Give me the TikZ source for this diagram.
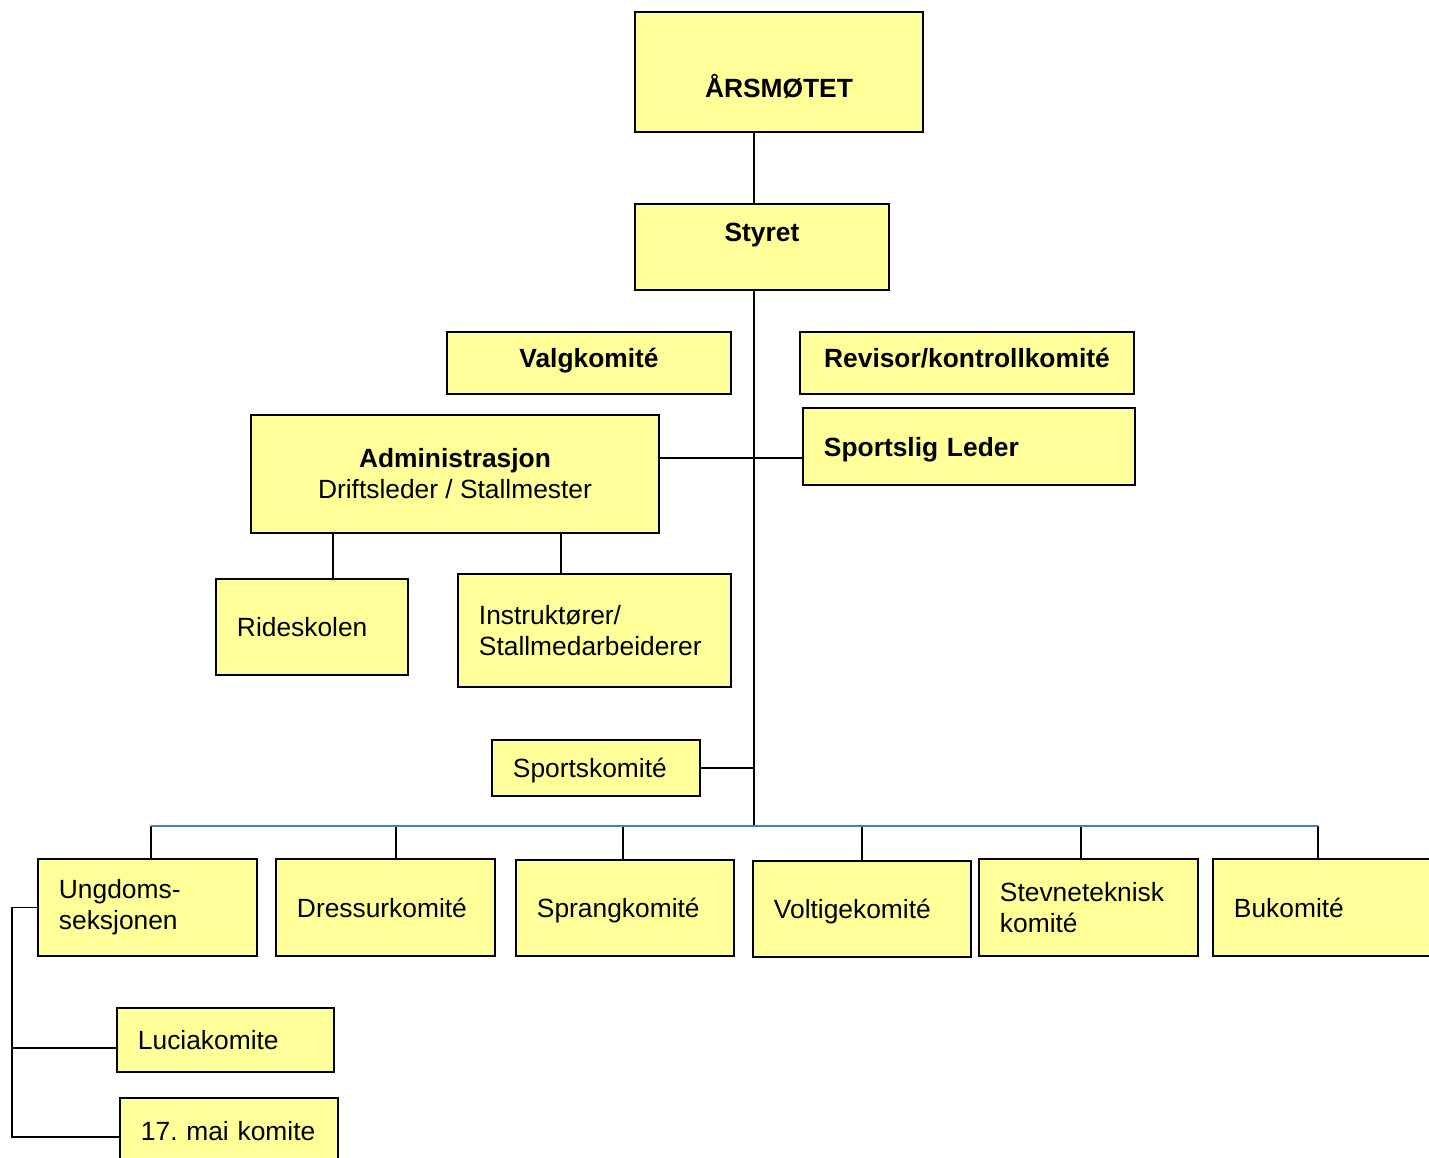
\documentclass[tikz,border=0pt]{standalone}
\usepackage{fontspec}
\setmainfont{Liberation Sans}
\frenchspacing
\definecolor{boxyellow}{RGB}{255,255,153}
\definecolor{busblue}{RGB}{74,126,187}
\newcommand{\orgfont}{\fontsize{15}{17.6}\selectfont}

\begin{document}
\begin{tikzpicture}[
      every node/.style={draw, fill=boxyellow, line width=1.1pt, anchor=north west, inner sep=0pt, font=\orgfont},
      head/.style={font=\orgfont\bfseries, align=center},
      left box/.style={align=left, inner xsep=0.42cm, text width=#1},
      one line/.style={text depth=0pt},
      link/.style={line width=1.1pt},
      busline/.style={draw=busblue, line width=1.1pt}
    ]
    \useasboundingbox (0,0) rectangle (28.58,-23.16);

    % top
    \node (ars) [head, minimum width=5.76cm, minimum height=2.4cm, text height=1.02cm, text depth=0pt] at (12.68,-0.22) {ÅRSMØTET};
    \node (sty) [head, minimum width=5.08cm, minimum height=1.72cm, text height=0pt, text depth=0.22cm] at (12.68,-4.06) {Styret};
    \node (val) [head, minimum width=5.68cm, minimum height=1.24cm, text height=0.2cm, text depth=0pt] at (8.92,-6.62) {Valgkomité};
    \node (rev) [head, minimum width=6.68cm, minimum height=1.24cm, text height=0.2cm, text depth=0pt] at (15.98,-6.62) {Revisor/kontrollkomité};
    \node (spl) [head, left box=5.80cm, one line, minimum height=1.54cm] at (16.04,-8.14) {Sportslig Leder};
    \node (adm) [align=center, minimum width=8.16cm, minimum height=2.36cm] at (5.00,-8.28) {\textbf{Administrasjon}\\Driftsleder / Stallmester};

    % administration
    \node (rid) [left box=3.00cm, one line, minimum height=1.92cm] at (4.30,-11.56) {Rideskolen};
    \node (ins) [left box=4.62cm, minimum height=2.26cm] at (9.14,-11.46) {Instruktører/\\Stallmedarbeiderer};
    \node (spk) [left box=3.32cm, one line, minimum height=1.12cm] at (9.82,-14.78) {Sportskomité};

    % committees
    \node (ung) [left box=3.54cm, minimum height=1.94cm] at (0.74,-17.16) {Ungdoms-\\seksjonen};
    \node (dre) [left box=3.54cm, one line, minimum height=1.94cm] at (5.50,-17.16) {Dressurkomité};
    \node (spr) [left box=3.52cm, one line, minimum height=1.92cm] at (10.30,-17.18) {Sprangkomité};
    \node (vol) [left box=3.52cm, one line, minimum height=1.92cm] at (15.04,-17.20) {Voltigekomité};
    \node (ste) [left box=3.54cm, minimum height=1.94cm] at (19.56,-17.16) {Stevneteknisk\\komité};
    \node (buk) [left box=3.54cm, one line, minimum height=1.94cm] at (24.24,-17.16) {Bukomité};
    \node (luc) [left box=3.50cm, one line, minimum height=1.28cm] at (2.32,-20.14) {Luciakomite};
    \node (mai) [left box=3.52cm, one line, minimum height=1.32cm] at (2.38,-21.94) {17. mai komite};

    \coordinate (bus) at (15.08,-16.52);
    \draw[link] (bus |- ars.south) -- (bus |- sty.north);
    \draw[link] (bus |- sty.south) -- (bus);
    \path ([yshift=0.32cm]adm.east) coordinate (admlink);
    \draw[link] (admlink) -- (admlink -| spl.west);
    \draw[link] (spk.east) -- (spk.east -| bus);
    \draw[link] (6.66,0 |- adm.south) -- (6.66,0 |- rid.north);
    \draw[link] (11.22,0 |- adm.south) -- (11.22,0 |- ins.north);

    \foreach \x/\nm in {3.02/ung, 7.92/dre, 12.46/spr, 17.24/vol, 21.62/ste, 26.36/buk}
        \draw[link] (\x,0 |- bus) -- (\x,0 |- \nm.north);
    \draw[busline] (3.02,0 |- bus) -- (26.36,0 |- bus);

    % youth section
    \coordinate (ubend) at (0.24,-22.74);
    \path ([yshift=-0.16cm]luc.west) coordinate (luclink);
    \draw[link] (ung.west) -| (ubend) -- (ubend -| mai.west);
    \draw[link] (luclink) -- (luclink -| ubend);

\end{tikzpicture}
\end{document}
